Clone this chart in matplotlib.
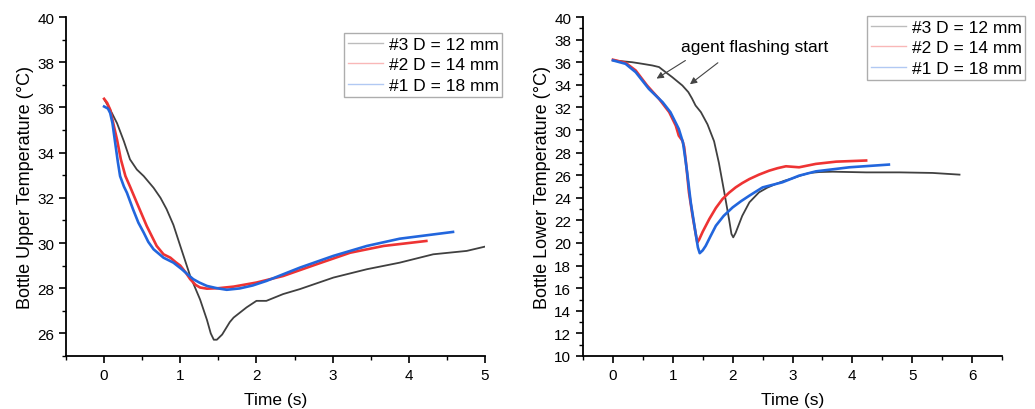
import numpy as np
import matplotlib
matplotlib.use("Agg")
import matplotlib.pyplot as plt
from matplotlib.ticker import MultipleLocator

plt.rcParams["font.family"] = ["Liberation Sans", "DejaVu Sans"]

# -----------------------
# Upper temperature (left panel)
# -----------------------
up_t3 = [0, 0.08, 0.17, 0.26, 0.34, 0.43, 0.52, 0.65, 0.74, 0.82, 0.91, 1.0, 1.13, 1.26, 1.35, 1.40,
         1.44, 1.48, 1.55, 1.65, 1.70, 1.87, 2.0, 2.13, 2.35, 2.57, 3.01, 3.45, 3.88, 4.32, 4.76, 5.0]
up_y3 = [36.37, 35.9, 35.3, 34.5, 33.7, 33.25, 32.96, 32.44, 32.0, 31.5, 30.8, 29.87, 28.54, 27.5, 26.6, 26.0,
         25.72, 25.72, 25.95, 26.5, 26.7, 27.15, 27.44, 27.44, 27.74, 27.96, 28.47, 28.84, 29.13, 29.5, 29.65, 29.84]

up_t2 = [0, 0.04, 0.08, 0.12, 0.17, 0.22, 0.28, 0.34, 0.43, 0.56, 0.69, 0.78, 0.87, 0.94, 1.0, 1.07, 1.13,
         1.20, 1.26, 1.35, 1.50, 1.70, 2.0, 2.35, 2.79, 3.23, 3.67, 4.23]
up_y2 = [36.38, 36.2, 35.9, 35.3, 34.57, 33.7, 32.96, 32.5, 31.78, 30.75, 29.87, 29.5, 29.35, 29.15, 29.0, 28.7, 28.4,
         28.15, 28.03, 27.98, 28.0, 28.07, 28.25, 28.54, 29.06, 29.57, 29.87, 30.09]

up_t1 = [0, 0.05, 0.08, 0.11, 0.14, 0.18, 0.21, 0.26, 0.30, 0.38, 0.45, 0.52, 0.58, 0.65, 0.78, 0.91, 1.02,
         1.10, 1.17, 1.25, 1.35, 1.48, 1.61, 1.78, 1.95, 2.13, 2.57, 3.01, 3.45, 3.88, 4.58]
up_y1 = [36.04, 35.95, 35.75, 35.3, 34.57, 33.6, 32.96, 32.5, 32.22, 31.49, 30.9, 30.46, 30.05, 29.72, 29.35, 29.13,
         28.84, 28.6, 28.4, 28.25, 28.1, 28.0, 27.93, 27.99, 28.12, 28.32, 28.91, 29.43, 29.87, 30.19, 30.49]

# -----------------------
# Lower temperature (right panel)
# -----------------------
lo_t3 = [0, 0.32, 0.49, 0.66, 0.77, 0.88, 0.99, 1.16, 1.26, 1.32, 1.38, 1.47, 1.58, 1.69, 1.77,
         1.86, 1.94, 1.98, 2.01, 2.05, 2.16, 2.28, 2.44, 2.58, 2.72, 2.86, 3.0, 3.14, 3.28, 3.45, 3.67,
         4.23, 4.79, 5.34, 5.79]
lo_y3 = [36.16, 36.0, 35.86, 35.71, 35.57, 35.12, 34.68, 33.94, 33.35, 32.8, 32.17, 31.58, 30.5, 29.0, 27.1,
         24.5, 22.1, 20.8, 20.5, 20.9, 22.4, 23.6, 24.48, 24.9, 25.22, 25.5, 25.72, 25.98, 26.2, 26.28, 26.31,
         26.25, 26.25, 26.2, 26.05]

lo_t2 = [0, 0.21, 0.38, 0.57, 0.77, 0.94, 1.05, 1.10, 1.16, 1.19, 1.22, 1.27, 1.33, 1.38, 1.41, 1.44,
         1.50, 1.61, 1.72, 1.83, 1.94, 2.05, 2.16, 2.28, 2.44, 2.61, 2.75, 2.89, 3.11, 3.39, 3.73, 4.23]
lo_y2 = [36.22, 35.95, 35.27, 33.94, 32.76, 31.58, 30.39, 29.5, 29.06, 28.5, 27.14, 24.48, 22.41, 20.9, 20.05, 20.3,
         21.0, 22.12, 23.1, 23.89, 24.45, 24.92, 25.3, 25.66, 26.05, 26.4, 26.62, 26.79, 26.7, 27.0, 27.2, 27.3]

lo_t1 = [0, 0.21, 0.38, 0.60, 0.83, 0.96, 1.10, 1.17, 1.20, 1.24, 1.30, 1.38, 1.42, 1.45, 1.50, 1.55, 1.63,
         1.72, 1.85, 2.0, 2.14, 2.28, 2.50, 2.83, 3.11, 3.39, 3.95, 4.61]
lo_y1 = [36.16, 35.86, 35.12, 33.64, 32.46, 31.58, 30.1, 28.9, 27.8, 26.25, 23.6, 20.9, 19.6, 19.1, 19.35, 19.75, 20.6,
         21.53, 22.4, 23.15, 23.7, 24.19, 24.92, 25.37, 25.96, 26.34, 26.7, 26.94]

labels = ["#3 D = 12 mm", "#2 D = 14 mm", "#1 D = 18 mm"]
colors = ["#404040", "#ee3333", "#2266dd"]
widths = [1.3, 1.9, 1.9]

fig = plt.figure(figsize=(10.35, 4.1), dpi=100)
W, H = 1035, 410
ax1 = fig.add_axes([66 / W, 1 - 357 / H, (485 - 66) / W, (357 - 18) / H])
ax2 = fig.add_axes([583 / W, 1 - 357 / H, (1002 - 583) / W, (357 - 18) / H])


def style_axes(ax):
    for s in ["top", "right"]:
        ax.spines[s].set_visible(False)
    for s in ["left", "bottom"]:
        ax.spines[s].set_linewidth(1.3)
    ax.tick_params(which="major", direction="out", length=5, width=1.2, labelsize=11)
    ax.tick_params(which="minor", direction="out", length=3, width=1.0)
    ax.set_xlabel("Time (s)", fontsize=12.5, labelpad=7)


def add_legend(handles, x0, y0):
    leg = fig.legend(handles, labels, loc="upper left",
                     bbox_to_anchor=(x0 / W, 1 - y0 / H),
                     fontsize=12.5, frameon=True, fancybox=False,
                     handlelength=2.05, handletextpad=0.3, borderpad=0.22,
                     labelspacing=0.3, borderaxespad=0)
    leg.get_frame().set_edgecolor("#999999")
    leg.get_frame().set_linewidth(1.0)
    for h in leg.get_lines():
        h.set_alpha(0.35)
        h.set_linewidth(1.0)


# ---- left panel ----
h = []
for t, y, c, lw, lab in zip([up_t3, up_t2, up_t1], [up_y3, up_y2, up_y1], colors, widths, labels):
    h.append(ax1.plot(t, y, color=c, lw=lw, label=lab)[0])
ax1.set_xlim(-0.5, 5)
ax1.set_ylim(25, 40)
ax1.xaxis.set_major_locator(MultipleLocator(1))
ax1.xaxis.set_minor_locator(MultipleLocator(0.5))
ax1.yaxis.set_minor_locator(MultipleLocator(1))
ax1.set_yticks([26, 28, 30, 32, 34, 36, 38, 40])
ax1.set_ylabel("Bottle Upper Temperature (°C)", fontsize=13, labelpad=2)
style_axes(ax1)
add_legend(h, 344, 34)

# ---- right panel ----
h = []
for t, y, c, lw, lab in zip([lo_t3, lo_t2, lo_t1], [lo_y3, lo_y2, lo_y1], colors, widths, labels):
    h.append(ax2.plot(t, y, color=c, lw=lw, label=lab)[0])
ax2.set_xlim(-0.5, 6.5)
ax2.set_ylim(10, 40)
ax2.xaxis.set_major_locator(MultipleLocator(1))
ax2.xaxis.set_minor_locator(MultipleLocator(0.5))
ax2.yaxis.set_major_locator(MultipleLocator(2))
ax2.yaxis.set_minor_locator(MultipleLocator(1))
ax2.set_ylabel("Bottle Lower Temperature (°C)", fontsize=13, labelpad=2)
style_axes(ax2)
add_legend(h, 867, 17)

ax2.text(2.36, 37.35, "agent flashing start", fontsize=12.5, ha="center", va="center")
arrow = dict(arrowstyle="-|>", color="#444444", lw=0.8, mutation_scale=10)
ax2.annotate("", xy=(0.69, 34.42), xytext=(1.25, 36.28), arrowprops=arrow)
ax2.annotate("", xy=(1.25, 33.9), xytext=(1.79, 36.1), arrowprops=arrow)

fig.savefig("out.png", dpi=100)
